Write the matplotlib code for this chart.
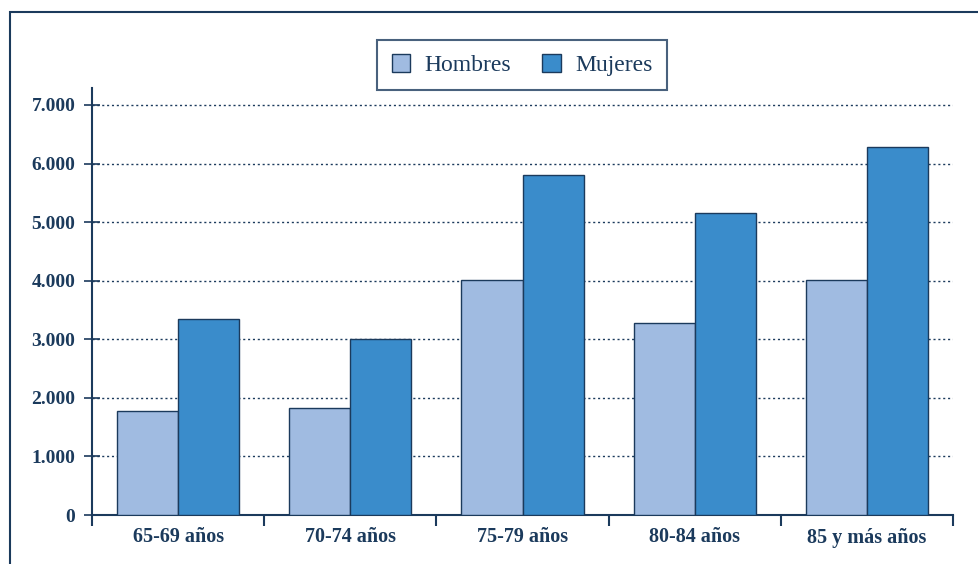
import numpy as np
import matplotlib.pyplot as plt
from matplotlib.patches import Rectangle
from matplotlib.ticker import FuncFormatter

# Datos del gráfico
categorias = ["65-69 años", "70-74 años", "75-79 años", "80-84 años", "85 y más años"]
hombres = [1775, 1825, 4005, 3280, 4015]
mujeres = [3345, 3005, 5810, 5155, 6280]

navy = "#1B3A5C"
col_h = "#A0BBE1"
col_m = "#3A8CCB"

plt.rcParams['font.family'] = ['Liberation Serif', 'DejaVu Serif']

fig = plt.figure(figsize=(9.79, 5.64), dpi=100)
ax = fig.add_axes([92 / 979, 1 - 515 / 564, (953 - 92) / 979, (515 - 88) / 564])

# marco exterior
fig.patches.append(Rectangle((10 / 979, -0.1), 1.2, 0.1 + (564 - 12) / 564,
                             transform=fig.transFigure, fill=False,
                             edgecolor=navy, lw=1.5))

x = np.arange(len(categorias))
w = 0.355
ax.bar(x - w / 2, hombres, w, color=col_h, edgecolor=navy, lw=1, label="Hombres", zorder=3)
ax.bar(x + w / 2, mujeres, w, color=col_m, edgecolor=navy, lw=1, label="Mujeres", zorder=3)

ax.set_xlim(-0.5, len(categorias) - 0.5)
ax.set_ylim(0, 7290)
ax.set_yticks(np.arange(0, 7001, 1000))
ax.yaxis.set_major_formatter(FuncFormatter(lambda v, p: f"{int(v):,}".replace(",", ".")))
for v in range(1000, 7001, 1000):
    ax.axhline(v, color=navy, lw=1, ls=(0, (1.5, 2)), zorder=1)

ax.set_xticks(x)
ax.set_xticklabels(categorias)
ax.set_xticks(np.arange(-0.5, len(categorias)), minor=True)
ax.tick_params(axis='x', which='major', length=0, pad=9, labelsize=14.5, labelcolor=navy)
ax.tick_params(axis='x', which='minor', length=8, width=1.5, color=navy, direction='out')
ax.tick_params(axis='y', length=12, width=1.2, color=navy, direction='inout', pad=6,
               labelsize=14, labelcolor=navy)
for lab in ax.get_xticklabels() + ax.get_yticklabels():
    lab.set_fontweight('bold')

for s in ['top', 'right']:
    ax.spines[s].set_visible(False)
for s in ['left', 'bottom']:
    ax.spines[s].set_color(navy)
    ax.spines[s].set_linewidth(1.5)

leg = fig.legend(loc='center', bbox_to_anchor=(522 / 979, 1 - 65 / 564), ncol=2,
                 frameon=True, fancybox=False, fontsize=17, handlelength=0.8, handleheight=0.8,
                 columnspacing=1.3, borderpad=0.6, handletextpad=0.6, borderaxespad=0)
leg.get_frame().set_edgecolor(navy)
leg.get_frame().set_linewidth(1.5)
for t in leg.get_texts():
    t.set_color(navy)

fig.savefig("out.png", dpi=100)
